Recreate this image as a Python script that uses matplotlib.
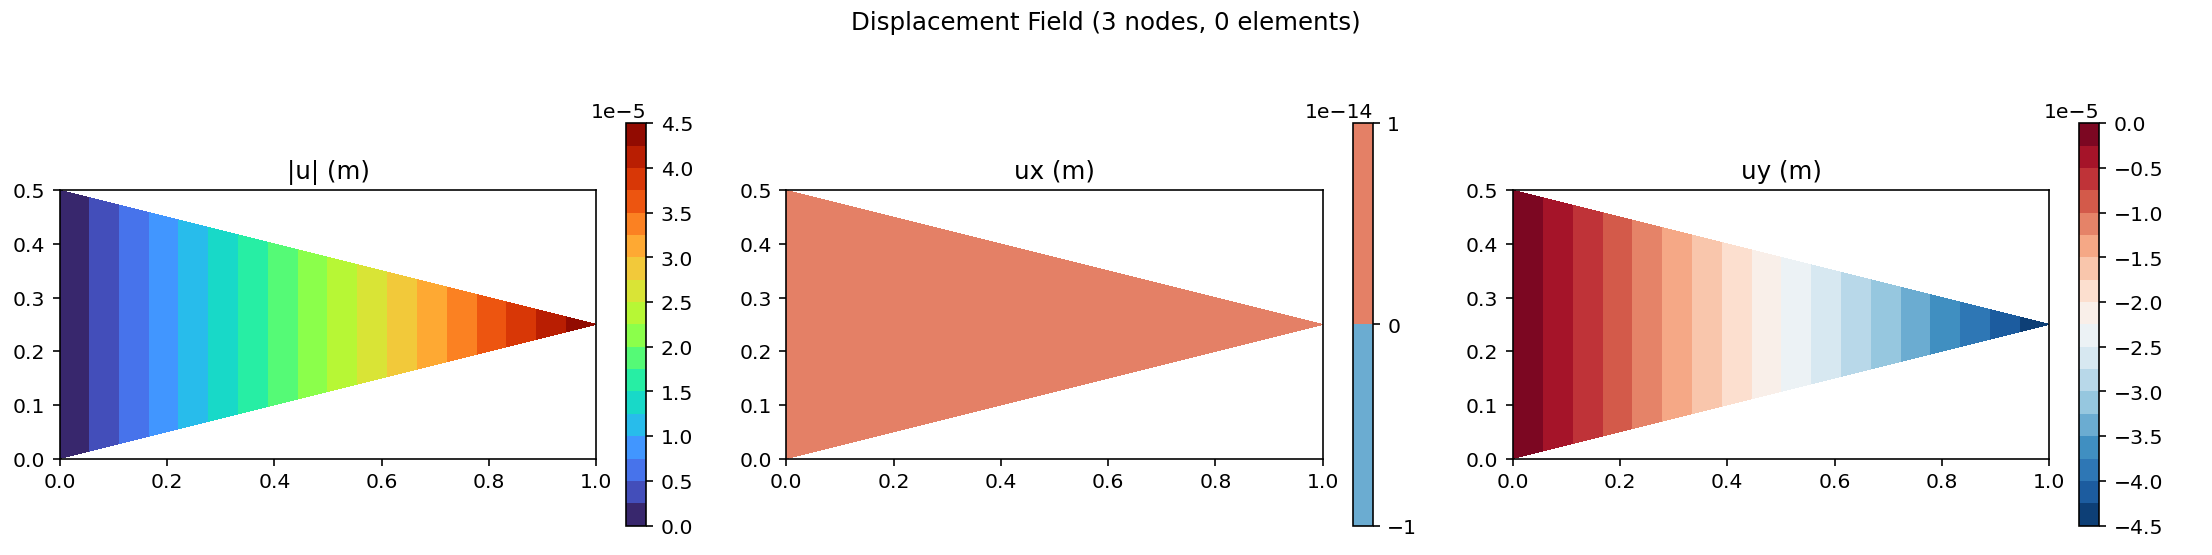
import numpy as np
import matplotlib.pyplot as plt
import matplotlib.tri as mtri

node_x = [0.0, 1.0, 0.0]
node_y = [0.0, 0.25, 0.5]
u_mag = [0.0, 4.5e-5, 0.0]
u_x = [0.0, 0.0, 0.0]
u_y = [0.0, -4.5e-5, 0.0]
triangles = [[0, 1, 2]]

tri = mtri.Triangulation(node_x, node_y, triangles)

fig, axes = plt.subplots(1, 3, figsize=(15.05, 3.78), dpi=147)
fig.suptitle("Displacement Field (3 nodes, 0 elements)")
fig.subplots_adjust(left=0.027, right=0.985, top=0.777, bottom=0.053, wspace=0.09)

panels = [(u_mag, "|u| (m)", "turbo"), (u_x, "ux (m)", "RdBu_r"), (u_y, "uy (m)", "RdBu_r")]
for ax, (vals, title, cmap) in zip(axes, panels):
    cs = ax.tricontourf(tri, np.array(vals), levels=20, cmap=cmap)
    ax.set_aspect("equal")
    ax.set_xlim(0, 1)
    ax.set_ylim(0, 0.5)
    ax.set_title(title)
    fig.colorbar(cs, ax=ax, pad=0.045)

plt.savefig("out.png")
